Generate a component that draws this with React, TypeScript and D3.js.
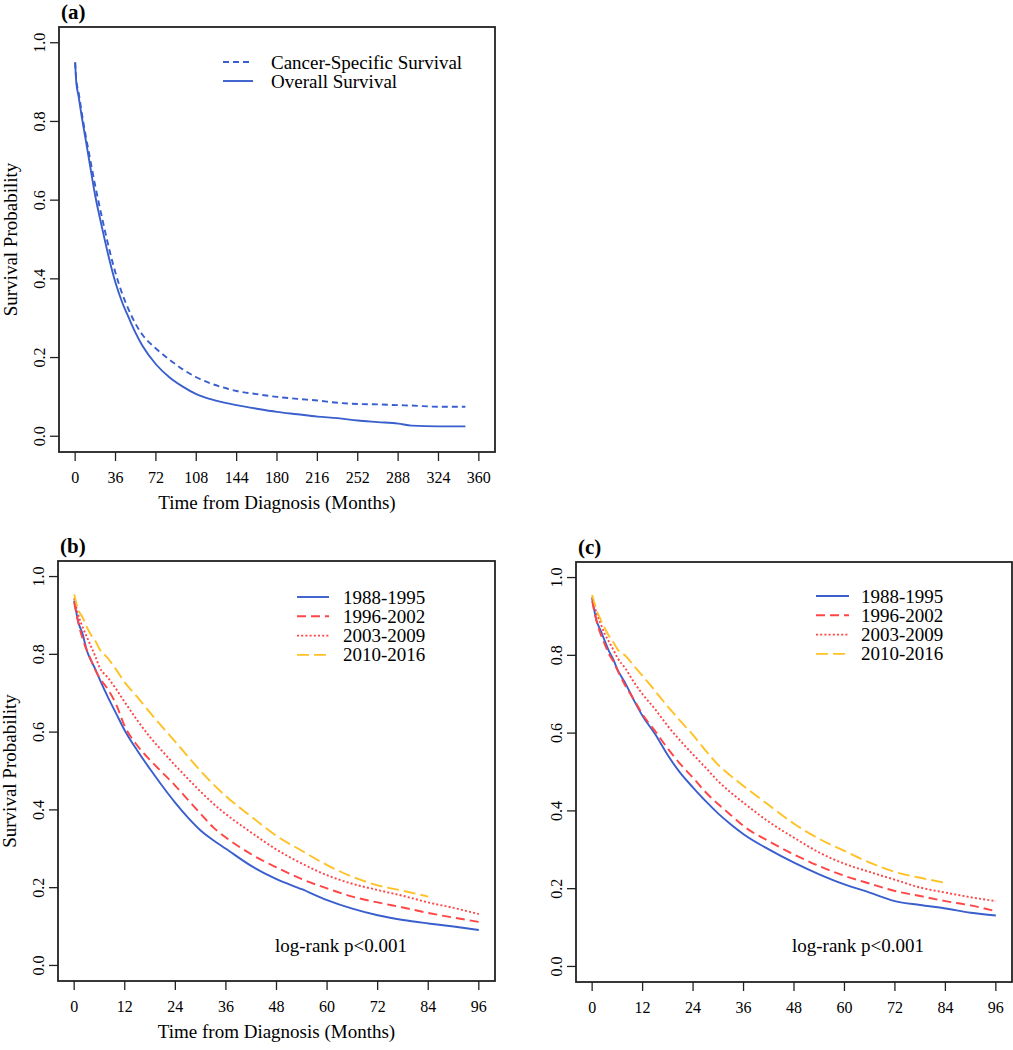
import * as d3 from "d3";

const FONT = "'Liberation Serif', 'Times New Roman', serif";
const BLUE = "#3A5FCD";
const RED = "#FF4545";
const GOLD = "#FFC125";

// panel (a): overall vs cancer-specific survival
const aTimes = [0, 1, 3, 6, 9, 12, 18, 24, 30, 36, 42, 48, 54, 60, 72, 84, 96, 108, 120, 132, 144, 162, 180, 198, 216, 234, 252, 270, 288, 300, 324, 348];
const overallSurvival = [0.95, 0.9, 0.865, 0.81, 0.76, 0.71, 0.61, 0.53, 0.455, 0.39, 0.34, 0.3, 0.262, 0.23, 0.183, 0.15, 0.126, 0.107, 0.095, 0.086, 0.079, 0.07, 0.062, 0.056, 0.05, 0.046, 0.04, 0.036, 0.032, 0.027, 0.025, 0.025];
const cancerSpecific = [0.95, 0.905, 0.875, 0.82, 0.77, 0.725, 0.635, 0.555, 0.48, 0.415, 0.362, 0.32, 0.285, 0.258, 0.223, 0.195, 0.17, 0.15, 0.135, 0.124, 0.115, 0.107, 0.1, 0.095, 0.091, 0.085, 0.082, 0.081, 0.079, 0.078, 0.075, 0.075];
const aXTicks = [0, 36, 72, 108, 144, 180, 216, 252, 288, 324, 360];

// panels (b) and (c): by diagnosis period
const bcTimes = [0, 1, 2, 3, 4, 5, 6, 8, 10, 12, 15, 18, 21, 24, 27, 30, 33, 36, 42, 48, 54, 60, 66, 72, 78, 84, 90, 96];
const bcXTicks = [0, 12, 24, 36, 48, 60, 72, 84, 96];
const yTicks = [0, 0.2, 0.4, 0.6, 0.8, 1];
const periods = ["1988-1995", "1996-2002", "2003-2009", "2010-2016"];

const b1988 = [0.938, 0.882, 0.852, 0.81, 0.784, 0.762, 0.737, 0.69, 0.647, 0.604, 0.552, 0.505, 0.46, 0.418, 0.38, 0.347, 0.322, 0.3, 0.256, 0.222, 0.196, 0.168, 0.146, 0.129, 0.117, 0.108, 0.1, 0.091];
const b1996 = [0.934, 0.88, 0.84, 0.81, 0.785, 0.76, 0.74, 0.71, 0.67, 0.615, 0.565, 0.528, 0.495, 0.462, 0.426, 0.39, 0.355, 0.329, 0.286, 0.252, 0.222, 0.198, 0.177, 0.162, 0.149, 0.135, 0.123, 0.112];
const b2003 = [0.944, 0.9, 0.87, 0.845, 0.82, 0.795, 0.767, 0.74, 0.71, 0.677, 0.63, 0.587, 0.55, 0.514, 0.48, 0.447, 0.416, 0.389, 0.342, 0.298, 0.262, 0.232, 0.21, 0.194, 0.179, 0.162, 0.148, 0.132];
const b2010 = [0.954, 0.914, 0.895, 0.87, 0.85, 0.835, 0.814, 0.79, 0.76, 0.728, 0.69, 0.65, 0.612, 0.575, 0.537, 0.5, 0.466, 0.435, 0.383, 0.333, 0.295, 0.258, 0.228, 0.206, 0.192, 0.177];

const c1988 = [0.947, 0.891, 0.864, 0.837, 0.811, 0.79, 0.764, 0.726, 0.683, 0.644, 0.597, 0.543, 0.497, 0.46, 0.425, 0.393, 0.365, 0.34, 0.301, 0.267, 0.237, 0.211, 0.19, 0.168, 0.158, 0.149, 0.138, 0.131];
const c1996 = [0.94, 0.89, 0.855, 0.828, 0.803, 0.785, 0.762, 0.72, 0.685, 0.648, 0.605, 0.56, 0.52, 0.485, 0.448, 0.417, 0.389, 0.361, 0.322, 0.288, 0.258, 0.233, 0.213, 0.194, 0.181, 0.168, 0.157, 0.142];
const c2003 = [0.95, 0.91, 0.882, 0.855, 0.835, 0.815, 0.794, 0.765, 0.73, 0.7, 0.661, 0.618, 0.58, 0.545, 0.511, 0.476, 0.447, 0.421, 0.372, 0.331, 0.293, 0.264, 0.243, 0.223, 0.203, 0.19, 0.178, 0.168];
const c2010 = [0.955, 0.918, 0.892, 0.87, 0.85, 0.835, 0.816, 0.798, 0.772, 0.747, 0.708, 0.668, 0.631, 0.595, 0.555, 0.518, 0.49, 0.464, 0.415, 0.367, 0.328, 0.297, 0.267, 0.243, 0.228, 0.215];

type Series = { name: string; times: number[]; values: number[]; color: string; dash?: string };

const periodStyle = [
  { color: BLUE, dash: undefined },
  { color: RED, dash: "9,5" },
  { color: RED, dash: "2,2.2" },
  { color: GOLD, dash: "12,5" },
];

const bySeries = (vals: number[][]): Series[] =>
  vals.map((v, i) => ({ name: periods[i], times: bcTimes, values: v, ...periodStyle[i] }));

type PanelProps = {
  label: string;
  left: number;
  top: number;
  width: number;
  height: number;
  xMax: number;
  xTicks: number[];
  series: Series[];
  legendDx: number;
  legendTextDx: number;
  legendLen: number;
  legendDy: number;
  legendStep: number;
  showTitles: boolean;
  logRank?: { dx: number; dy: number };
};

function Panel(p: PanelProps) {
  const x = d3.scaleLinear().domain([-0.04 * p.xMax, 1.04 * p.xMax]).range([p.left, p.left + p.width]);
  const y = d3.scaleLinear().domain([-0.04, 1.04]).range([p.top + p.height, p.top]);
  const bottom = p.top + p.height;
  const line = d3
    .line<[number, number]>()
    .x((d) => x(d[0]))
    .y((d) => y(d[1]))
    .curve(d3.curveMonotoneX);
  const fmt = d3.format(".1f");

  return (
    <g fontFamily={FONT} fill="#000">
      <text x={p.left + 2} y={p.top - 8} fontSize={21} fontWeight="bold">{p.label}</text>

      {p.series.map((s) => (
        <path
          key={s.name}
          d={line(s.values.map((v, i) => [s.times[i], v] as [number, number])) || ""}
          fill="none"
          stroke={s.color}
          strokeWidth={1.9}
          strokeDasharray={s.dash}
        />
      ))}

      <rect x={p.left} y={p.top} width={p.width} height={p.height} fill="none" stroke="#222" strokeWidth={1.8} />

      {p.xTicks.map((t) => (
        <g key={"x" + t}>
          <line x1={x(t)} x2={x(t)} y1={bottom} y2={bottom + 9} stroke="#222" strokeWidth={1.3} />
          <text x={x(t)} y={bottom + 31} fontSize={16} textAnchor="middle">{t}</text>
        </g>
      ))}
      {yTicks.map((t) => (
        <g key={"y" + t}>
          <line x1={p.left - 9} x2={p.left} y1={y(t)} y2={y(t)} stroke="#222" strokeWidth={1.3} />
          <text transform={`translate(${p.left - 14.5},${y(t)}) rotate(-90)`} fontSize={16} textAnchor="middle">{fmt(t)}</text>
        </g>
      ))}

      {p.showTitles && (
        <>
          <text x={p.left + p.width / 2} y={bottom + 57} fontSize={19} textAnchor="middle">Time from Diagnosis (Months)</text>
          <text transform={`translate(${p.left - 42.5},${p.top + p.height / 2}) rotate(-90)`} fontSize={19} textAnchor="middle">Survival Probability</text>
        </>
      )}

      {p.series.map((s, i) => {
        const ly = p.top + p.legendDy + i * p.legendStep;
        return (
          <g key={"lg" + s.name}>
            <line x1={p.left + p.legendDx} x2={p.left + p.legendDx + p.legendLen} y1={ly} y2={ly} stroke={s.color} strokeWidth={1.9} strokeDasharray={s.dash} />
            <text x={p.left + p.legendTextDx} y={ly + 6.5} fontSize={19}>{s.name}</text>
          </g>
        );
      })}

      {p.logRank && (
        <text x={p.left + p.logRank.dx} y={p.top + p.logRank.dy} fontSize={19}>log-rank p&lt;0.001</text>
      )}
    </g>
  );
}

export default function App() {
  const aSeries: Series[] = [
    { name: "Cancer-Specific Survival", times: aTimes, values: cancerSpecific, color: BLUE, dash: "6,4" },
    { name: "Overall Survival", times: aTimes, values: overallSurvival, color: BLUE },
  ];
  return (
    <div style={{ position: "absolute", left: 0, top: 0 }}>
      <svg width={1013} height={1050} style={{ display: "block", background: "#fff" }}>
        <Panel label="(a)" left={59} top={27} width={436} height={425} xMax={360} xTicks={aXTicks} series={aSeries}
          legendDx={164} legendTextDx={212} legendLen={30} legendDy={35} legendStep={19} showTitles />
        <Panel label="(b)" left={58} top={561} width={437} height={420} xMax={96} xTicks={bcXTicks}
          series={bySeries([b1988, b1996, b2003, b2010])}
          legendDx={239} legendTextDx={285} legendLen={32} legendDy={36} legendStep={19.3} showTitles
          logRank={{ dx: 217, dy: 391 }} />
        <Panel label="(c)" left={576} top={562} width={436} height={420} xMax={96} xTicks={bcXTicks}
          series={bySeries([c1988, c1996, c2003, c2010])}
          legendDx={240} legendTextDx={285} legendLen={33} legendDy={34} legendStep={19.3} showTitles={false}
          logRank={{ dx: 216, dy: 390 }} />
      </svg>
    </div>
  );
}
